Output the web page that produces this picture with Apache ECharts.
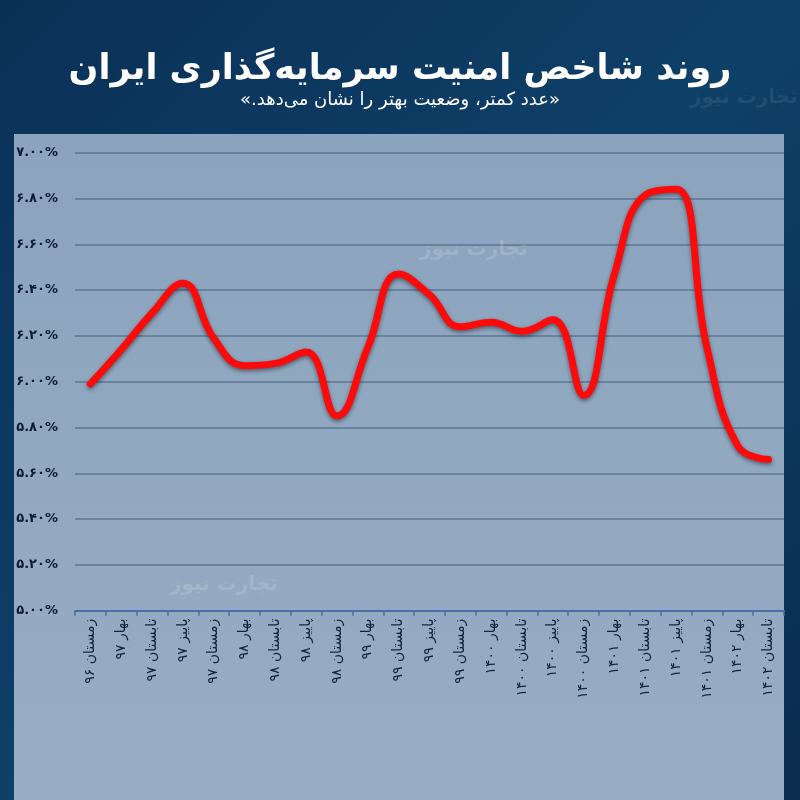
<!DOCTYPE html>
<html><head><meta charset="utf-8">
<script src="https://cdn.jsdelivr.net/npm/echarts@6/dist/echarts.min.js"></script>
<style>html,body{margin:0;padding:0;background:#0c3a62;}#c{width:800px;height:800px;}</style>
</head><body><div id="c"></div>
<script>
const titleText = 'روند شاخص امنیت سرمایه‌گذاری ایران';
const subtitleText = '«عدد کمتر، وضعیت بهتر را نشان می‌دهد.»';
const categories = ['زمستان ۹۶','بهار ۹۷','تابستان ۹۷','پاییز ۹۷','زمستان ۹۷','بهار ۹۸','تابستان ۹۸','پاییز ۹۸','زمستان ۹۸','بهار ۹۹','تابستان ۹۹','پاییز ۹۹','زمستان ۹۹','بهار ۱۴۰۰','تابستان ۱۴۰۰','پاییز ۱۴۰۰','زمستان ۱۴۰۰','بهار ۱۴۰۱','تابستان ۱۴۰۱','پاییز ۱۴۰۱','زمستان ۱۴۰۱','بهار ۱۴۰۲','تابستان ۱۴۰۲'];
const indexValues = [5.99, 6.14, 6.30, 6.43, 6.19, 6.07, 6.08, 6.13, 5.85, 6.15, 6.47, 6.38, 6.24, 6.26, 6.22, 6.27, 5.94, 6.47, 6.815, 6.84, 6.15, 5.72, 5.66];
const yMin = 5.0, yMax = 7.0, yStep = 0.2;

const faDigits = '۰۱۲۳۴۵۶۷۸۹';
const toFa = s => String(s).replace(/[0-9]/g, d => faDigits[+d]);
const rtl = s => '\u202B' + s + '\u202C';

const chart = echarts.init(document.getElementById('c'), null, {renderer: 'canvas'});
const FONT = '"DejaVu Sans", "Noto Sans", sans-serif';
chart.setOption({
  backgroundColor: {
    type: 'linear', x: 0, y: 0, x2: 1, y2: 1,
    colorStops: [{offset: 0, color: '#0b3056'}, {offset: 0.5, color: '#0e4068'}, {offset: 1, color: '#0a2c4e'}]
  },
  graphic: [
    {type: 'rect', z: 0, silent: true, shape: {x: 14, y: 134, width: 770, height: 666},
     style: {fill: {type: 'linear', x: 0, y: 0, x2: 0, y2: 1,
       colorStops: [{offset: 0, color: '#8ba3bd'}, {offset: 1, color: '#97adc4'}]}}},
    {type: 'text', z: 1, silent: true, left: 420, top: 240,
     style: {text: rtl('تجارت نیوز'), fill: 'rgba(255,255,255,0.16)', font: 'bold 20px ' + FONT}},
    {type: 'text', z: 1, silent: true, left: 170, top: 575,
     style: {text: rtl('تجارت نیوز'), fill: 'rgba(255,255,255,0.14)', font: 'bold 20px ' + FONT}},
    {type: 'text', z: 1, silent: true, left: 690, top: 88,
     style: {text: rtl('تجارت نیوز'), fill: 'rgba(255,255,255,0.08)', font: 'bold 20px ' + FONT}}
  ],
  title: {
    text: rtl(titleText),
    subtext: rtl(subtitleText),
    left: 'center', top: 47, itemGap: 4,
    textStyle: {color: '#ffffff', fontSize: 35, fontWeight: 'bold', fontFamily: FONT},
    subtextStyle: {color: '#ffffff', fontSize: 18, fontFamily: FONT}
  },
  grid: {left: 75, right: 16, top: 152.7, bottom: 189.3, containLabel: false},
  xAxis: {
    type: 'category', data: categories, boundaryGap: true,
    axisLine: {lineStyle: {color: '#4a6ea8', width: 2}},
    axisTick: {show: true, alignWithLabel: false, length: 5, lineStyle: {color: '#4a6ea8', width: 1.5}},
    axisLabel: {rotate: 90, interval: 0, color: '#13233d', fontSize: 14, fontFamily: FONT, margin: 8}
  },
  yAxis: {
    type: 'value', min: yMin, max: yMax, interval: yStep,
    axisLine: {show: false}, axisTick: {show: false},
    splitLine: {lineStyle: {color: '#5d7793', width: 1.5}},
    axisLabel: {color: '#0d1b33', fontSize: 13, fontWeight: 'bold', fontFamily: FONT, margin: 17,
      formatter: v => toFa(v.toFixed(2)) + '%'}
  },
  series: [{
    type: 'line', data: indexValues, smooth: 0.45, symbol: 'none', z: 5,
    lineStyle: {color: '#ff0a0a', width: 7, cap: 'round', join: 'round',
      shadowColor: 'rgba(0,0,0,0.45)', shadowBlur: 4, shadowOffsetY: 2}
  }],
  animation: false
});
</script></body></html>
